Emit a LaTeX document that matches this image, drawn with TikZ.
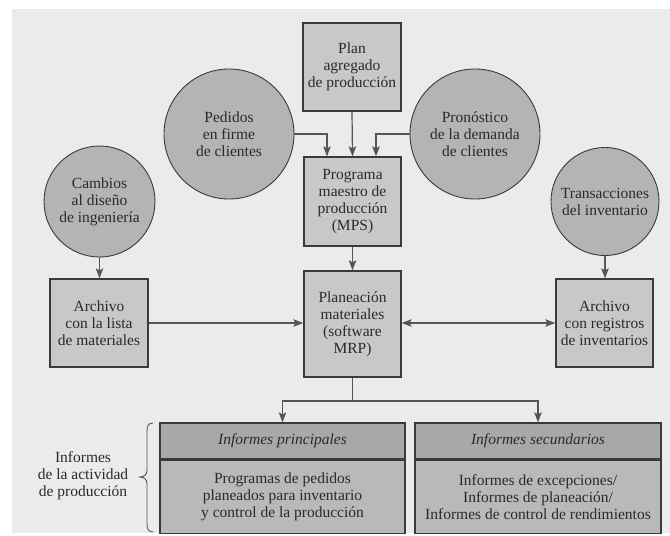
\documentclass[tikz,border=0pt]{standalone}
\usepackage{fontspec}
\setmainfont{Liberation Serif}
\usetikzlibrary{arrows.meta,positioning}
\definecolor{bgc}{HTML}{EBEBEB}
\definecolor{boxc}{HTML}{C8C8C8}
\definecolor{circc}{HTML}{B4B4B4}
\definecolor{headc}{HTML}{A8A8A8}
\definecolor{bodyc}{HTML}{B9B9B9}
\definecolor{linec}{HTML}{3A3A3A}
\definecolor{arrc}{HTML}{555555}
\definecolor{txtc}{HTML}{2A2A2A}
\tikzset{
  every node/.style={text=txtc,font=\rmfamily\fontsize{15.5}{17}\selectfont,align=center,inner sep=0pt},
  sqbox/.style={draw=linec,line width=1.3pt,fill=boxc,rectangle,minimum width=#1},
  sqbox/.default=97pt,
  circbox/.style={draw=linec,line width=0.9pt,fill=circc,circle,minimum size=#1},
  headbox/.style={draw=linec,line width=1.3pt,fill=headc,rectangle,minimum width=#1,minimum height=36pt,font=\rmfamily\fontsize{15.5}{17}\selectfont\itshape},
  bodybox/.style={draw=linec,line width=1.3pt,fill=bodyc,rectangle,minimum width=#1,minimum height=73pt},
  flow/.style={draw=arrc,line width=1.2pt,-{Stealth[length=10pt,width=7.5pt,inset=2pt]}},
  flowline/.style={draw=arrc,line width=1.2pt},
  bidir/.style={draw=arrc,line width=1.2pt,{Stealth[length=10pt,width=7.5pt,inset=2pt]}-{Stealth[length=10pt,width=7.5pt,inset=2pt]}},
  bracec/.style={draw=arrc,line width=0.9pt}
}
\begin{document}
\begin{tikzpicture}[x=1pt,y=-1pt]
\useasboundingbox (0,0) rectangle (670,536);
\fill[white] (0,0) rectangle (670,536);
\fill[bgc] (12,9) rectangle (670,533);

% nodes
\node[sqbox=98pt,minimum height=88pt] (plan) at (352,67) {Plan\\agregado\\de producción};
\node[circbox=130pt] (ped) at (229,134) {Pedidos\\en firme\\de clientes};
\node[circbox=130pt] (pron) at (475,134) {Pronóstico\\de la demanda\\de clientes};
\node[sqbox=97pt,minimum height=89pt] (mps) at (352.5,201.5) {Programa\\maestro de\\producción\\(MPS)};
\node[circbox=111pt] (camb) at (99.5,201.5) {Cambios\\al diseño\\de ingeniería};
\node[circbox=108pt] (trans) at (605,201.5) {Transacciones\\del inventario};
\node[sqbox=98pt,minimum height=88pt] (archl) at (99,323) {Archivo\\con la lista\\de materiales};
\node[sqbox=97pt,minimum height=106pt] (mrp) at (352.5,324) {Planeación\\materiales\\(software\\MRP)};
\node[sqbox=97pt,minimum height=88pt] (archr) at (604.5,323) {Archivo\\con registros\\de inventarios};

\node[headbox=245pt] (h1) at (282.5,441) {Informes principales};
\node[bodybox=245pt,anchor=north] (b1) at (h1.south) {Programas de pedidos\\planeados para inventario\\y control de la producción};
\node[headbox=246pt] (h2) at (538,441) {Informes secundarios};
\node[bodybox=246pt,anchor=north] (b2) at (h2.south) {Informes de excepciones/\\Informes de planeación/\\Informes de control de rendimientos};

\node (lab) at (83,476) {Informes\\de la actividad\\de producción};

% connectors
\draw[flow] (plan.south) -- (mps.north);
\draw[flow] (ped.east) -| ([xshift=-25.5pt]mps.north);
\draw[flow] (pron.west) -| ([xshift=23.5pt]mps.north);
\draw[flow] (camb.south) -- (camb.south |- archl.north);
\draw[flow] (trans.south) -- (trans.south |- archr.north);
\draw[flow] (mps.south) -- (mrp.north);
\draw[flow] (archl.east) -- (archl.east -| mrp.west);
\draw[bidir] (archr.west -| mrp.east) -- (archr.west);
\coordinate (split) at (352.5,401);
\draw[flowline] (mrp.south) -- (split);
\draw[flow] (split) -| (h1.north);
\draw[flow] (split) -| (h2.north);

% brace
\draw[bracec] (153,423) .. controls (148.5,423) and (147,426) .. (147,431)
  -- (147,470) .. controls (147,474.5) and (145,476.5) .. (140,477)
  .. controls (145,477.5) and (147,479.5) .. (147,484)
  -- (147,524) .. controls (147,529) and (148.5,532) .. (153,532);
\end{tikzpicture}
\end{document}
